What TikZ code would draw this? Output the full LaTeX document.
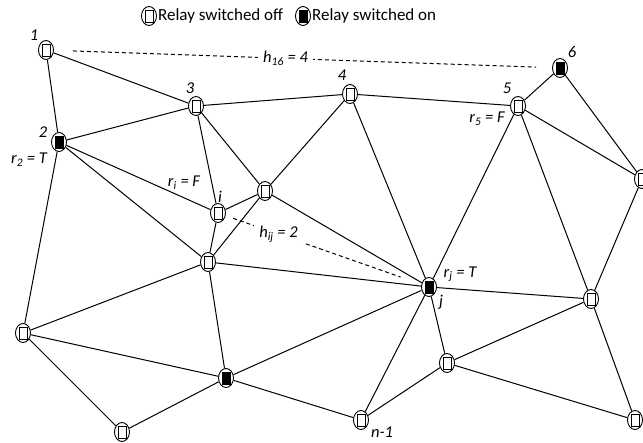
\documentclass[tikz,border=0pt]{standalone}
\usepackage{fontspec}
\setmainfont{Carlito}
\usetikzlibrary{positioning, calc, shapes.geometric}

\begin{document}
\begin{tikzpicture}[x=1pt, y=-1pt,
    relay/.style={draw, ellipse, line width=0.9pt, minimum width=15pt, minimum height=19pt, inner sep=0pt},
    relayoff/.style={relay, path picture={\draw[line width=0.9pt] ($(path picture bounding box.center)+(-4pt,-6pt)$) rectangle ($(path picture bounding box.center)+(4pt,6pt)$);}},
    relayon/.style={relay, path picture={\draw[line width=0.9pt, fill=black] ($(path picture bounding box.center)+(-4pt,-6pt)$) rectangle ($(path picture bounding box.center)+(4pt,6pt)$);}},
    lbl/.style={font=\fontsize{16.5}{18}\selectfont\itshape, inner sep=0pt},
    key/.style={font=\fontsize{17}{19}\selectfont, inner sep=0pt},
    link/.style={line width=1pt},
    hop/.style={line width=1pt, dash pattern=on 4pt off 3pt}]

    \useasboundingbox (0,0) rectangle (643,443);

    % legend
    \node[relayoff] (keyoff) at (149,16) {};
    \node[key, right=1pt of keyoff] (keyofftext) {Relay switched off};
    \node[relayon] (keyon) at (303,16) {};
    \node[key, right=1pt of keyon] (keyontext) {Relay switched on};

    % relays
    \node[relayoff] (n1) at (46,50) {};
    \node[relayon]  (n2) at (59,142) {};
    \node[relayoff] (n3) at (196,106) {};
    \node[relayoff] (n4) at (350,94) {};
    \node[relayoff] (n5) at (518,106) {};
    \node[relayon]  (n6) at (560,68) {};
    \node[relayoff] (nr) at (642,179) {};
    \node[relayoff] (ni) at (218,213) {};
    \node[relayoff] (na) at (265,191) {};
    \node[relayoff] (nb) at (208,262) {};
    \node[relayon]  (nj) at (429,287) {};
    \node[relayoff] (nl) at (23,333) {};
    \node[relayon]  (nc) at (226,378) {};
    \node[relayoff] (nd) at (122,432) {};
    \node[relayoff] (nn) at (361,420) {};
    \node[relayoff] (ne) at (447,363) {};
    \node[relayoff] (nf) at (591,299) {};
    \node[relayoff] (ng) at (635,420) {};

    \foreach \a/\b in {n1/n2, n1/n3, n2/n3, n2/ni, n2/nb, n2/nl, n3/n4, n3/ni, n3/na,
        n4/n5, n4/na, n4/nj, n5/n6, n5/nr, n5/nj, n5/nf, n6/nr, nr/nf,
        ni/na, ni/nb, na/nb, na/nj, nb/nj, nb/nl, nb/nc, nl/nc, nl/nd, nd/nc,
        nc/nj, nc/nn, nj/nn, nj/ne, nj/nf, nn/ne, ne/nf, ne/ng, nf/ng}
        \draw[link] (\a) -- (\b);

    % hop counts
    \draw[hop, shorten <=19pt, shorten >=16pt] (n1) -- node[pos=0.465, fill=white, inner xsep=5pt, font=\fontsize{16.5}{18}\selectfont\itshape] (h16) {h\textsubscript{16} = 4} (n6);
    \draw[hop, shorten <=8pt, shorten >=22pt] (ni) -- node[pos=0.27, fill=white, inner xsep=5pt, font=\fontsize{16.5}{18}\selectfont\itshape] (hij) {h\textsubscript{ij} = 2} (nj);

    % labels
    \node[lbl] (t1) at ($(n1)+(-12,-15)$) {1};
    \node[lbl] (t2) at ($(n2)+(-16,-10)$) {2};
    \node[lbl] (tr2) at ($(n2)+(-30,18)$) {r\textsubscript{2} = T};
    \node[lbl] (t3) at ($(n3)+(-6,-18)$) {3};
    \node[lbl] (t4) at ($(n4)+(-8,-19)$) {4};
    \node[lbl] (t5) at ($(n5)+(-11,-18)$) {5};
    \node[lbl] (tr5) at ($(n5)+(-31,13)$) {r\textsubscript{5} = F};
    \node[lbl] (t6) at ($(n6)+(12,-16)$) {6};
    \node[lbl] (tri) at ($(ni)+(-34,-30)$) {r\textsubscript{i} = F};
    \node[lbl] (tii) at ($(ni)+(2,-16)$) {i};
    \node[lbl] (trj) at ($(nj)+(31,-13)$) {r\textsubscript{j} = T};
    \node[lbl] (tjj) at ($(nj)+(12,15)$) {j};
    \node[lbl] (tnn) at ($(nn)+(21,12)$) {n-1};
\end{tikzpicture}
\end{document}
